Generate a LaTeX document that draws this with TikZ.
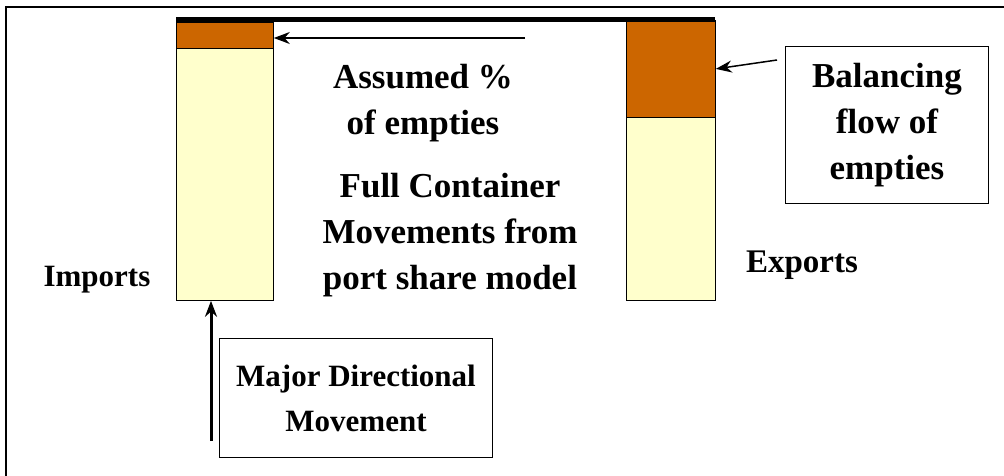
\documentclass[tikz,border=0pt]{standalone}
\usepackage{fontspec}
\setmainfont{Liberation Serif}
\usetikzlibrary{arrows.meta}
\definecolor{empties}{HTML}{CC6600}
\definecolor{fulls}{HTML}{FFFFCC}
\tikzset{
  bar/.style={draw, rectangle, inner sep=0pt, anchor=north west, line width=0.8pt},
  lbl/.style={align=center, font=\bfseries\fontsize{35}{46}\selectfont},
  small/.style={font=\bfseries\fontsize{31}{45}\selectfont},
  box/.style={draw, rectangle, line width=1pt, inner sep=0pt, anchor=north west},
  arr/.style={-{Stealth[length=16pt,width=12pt]}}
}
\begin{document}
\begin{tikzpicture}[x=1pt, y=-1pt]
\useasboundingbox (0,0) rectangle (1004,476);
% frame
\draw[line width=2pt] (6,476) -- (6,7) -- (1004,7);

% bars
\node[bar, fill=fulls, minimum width=97pt, minimum height=252pt] (impF) at (176,48) {};
\node[bar, fill=empties, minimum width=97pt, minimum height=26pt] (impE) at (176,22) {};
\node[bar, fill=fulls, minimum width=89pt, minimum height=183pt] (expF) at (626,117) {};
\node[bar, fill=empties, minimum width=89pt, minimum height=97pt] (expE) at (626,20) {};
\fill (176,17) rectangle (715,22);

% labels
\node[lbl, small] (imp) at (97,280) {Imports};
\node[lbl, font=\bfseries\fontsize{33}{46}\selectfont] (exp) at (802,265) {Exports};
\node[lbl] (ass) at (423,103) {Assumed \%\\of empties};
\node[lbl] (full) at (450,235) {Full Container\\Movements from\\port share model};
\node[box, minimum width=203pt, minimum height=157pt] (bal) at (785,46) {};
\node[lbl] (baltxt) at (bal.center) {Balancing\\flow of\\empties};
\node[box, minimum width=273pt, minimum height=119pt] (maj) at (219,338) {};
\node[lbl, small] (majtxt) at (maj.center) {Major Directional\\Movement};

% arrows
\coordinate (a1) at (525,38);
\draw[arr, line width=1.5pt] (a1) -- (a1 -| impE.east);
\coordinate (a2) at (777,60);
\draw[arr, line width=1.5pt] (a2) -- (expE.east);
\coordinate (a3) at (211,441);
\draw[arr, line width=3pt] (a3) -- (a3 |- impF.south);
\end{tikzpicture}
\end{document}
